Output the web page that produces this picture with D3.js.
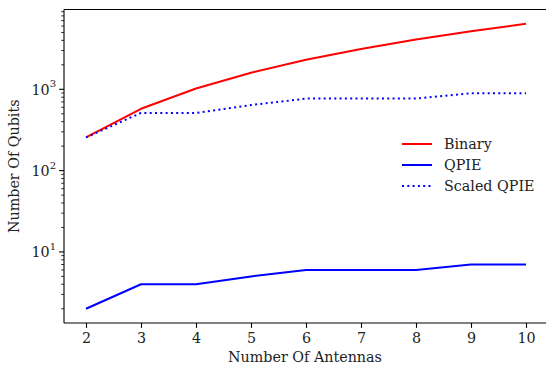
<!DOCTYPE html>
<html>
<head>
<meta charset="utf-8">
<script src="https://cdn.jsdelivr.net/npm/d3@7"></script>
<style>
  html, body { margin: 0; padding: 0; background: #fff; }
  svg { display: block; font-family: "DejaVu Serif", serif; }
</style>
</head>
<body>
<svg id="chart" width="546" height="367"></svg>
<script>
const antennas = [2, 3, 4, 5, 6, 7, 8, 9, 10];
const binary = [256, 576, 1024, 1600, 2304, 3136, 4096, 5184, 6400];
const qpie = [2, 4, 4, 5, 6, 6, 6, 7, 7];
const scaledQpie = [256, 512, 512, 640, 768, 768, 768, 896, 896];
const seriesNames = ['Binary', 'QPIE', 'Scaled QPIE'];
const yMajorTicks = [10, 100, 1000];

const svg = d3.select('#chart');
const margin = { left: 64, top: 9.5, right: 548, bottom: 323 };
const fs = 14.3;

// matplotlib-style 5% margins
const xPad = (d3.max(antennas) - d3.min(antennas)) * 0.05;
const x = d3.scaleLinear()
  .domain([d3.min(antennas) - xPad, d3.max(antennas) + xPad])
  .range([margin.left, margin.right]);

const all = binary.concat(qpie, scaledQpie);
const lmin = Math.log10(d3.min(all)), lmax = Math.log10(d3.max(all));
const lpad = (lmax - lmin) * 0.05;
const y = d3.scaleLog()
  .domain([Math.pow(10, lmin - lpad), Math.pow(10, lmax + lpad)])
  .range([margin.bottom, margin.top]);

// lines
const line = d3.line().x((d, i) => x(antennas[i])).y(d => y(d));
const series = [
  { name: seriesNames[0], values: binary, color: '#ff0000', dash: null },
  { name: seriesNames[1], values: qpie, color: '#0000ff', dash: null },
  { name: seriesNames[2], values: scaledQpie, color: '#0000ff', dash: '2,3.3' }
];
const plot = svg.append('g');
plot.selectAll('path').data(series).join('path')
  .attr('d', d => line(d.values))
  .attr('fill', 'none')
  .attr('stroke', d => d.color)
  .attr('stroke-width', 2)
  .attr('stroke-dasharray', d => d.dash)
  .attr('stroke-linejoin', 'round');

// spines
const spine = (x1, y1, x2, y2) => svg.append('line')
  .attr('x1', x1).attr('y1', y1).attr('x2', x2).attr('y2', y2)
  .attr('stroke', '#000').attr('stroke-width', 1.1);
spine(margin.left, margin.top, margin.left, margin.bottom);
spine(margin.left, margin.top, margin.right, margin.top);
spine(margin.left, margin.bottom, margin.right, margin.bottom);
spine(margin.right, margin.top, margin.right, margin.bottom);

// x axis
const xAxis = svg.append('g').attr('transform', `translate(0,${margin.bottom})`)
  .call(d3.axisBottom(x).tickValues(antennas).tickSize(4.9).tickPadding(4.5).tickFormat(d3.format('d')));
xAxis.select('.domain').remove();
xAxis.selectAll('text').attr('font-size', fs).attr('font-family', '"DejaVu Serif", serif').attr('fill', '#222');
xAxis.selectAll('line').attr('stroke', '#000').attr('stroke-width', 1.1);

// y axis: minor ticks
const [y0, y1] = y.domain();
const minor = [];
for (let e = Math.floor(Math.log10(y0)); e <= Math.ceil(Math.log10(y1)); e++) {
  for (let m = 2; m <= 9; m++) {
    const v = m * Math.pow(10, e);
    if (v >= y0 && v <= y1) minor.push(v);
  }
}
svg.append('g').selectAll('line').data(minor).join('line')
  .attr('x1', margin.left - 2.8).attr('x2', margin.left)
  .attr('y1', d => y(d)).attr('y2', d => y(d))
  .attr('stroke', '#000').attr('stroke-width', 0.8);

const yMaj = svg.append('g').selectAll('g').data(yMajorTicks).join('g')
  .attr('transform', d => `translate(0,${y(d)})`);
yMaj.append('line').attr('x1', margin.left - 4.9).attr('x2', margin.left)
  .attr('stroke', '#000').attr('stroke-width', 1.1);
const yt = yMaj.append('text').attr('x', margin.left - 8).attr('dy', '0.38em')
  .attr('text-anchor', 'end').attr('font-size', fs).attr('fill', '#222');
yt.append('tspan').text('10');
yt.append('tspan').attr('font-size', 10).attr('dy', '-0.75em').text(d => Math.round(Math.log10(d)));

// axis labels
svg.append('text').attr('x', (margin.left + margin.right) / 2 - 1).attr('y', 362)
  .attr('text-anchor', 'middle').attr('font-size', fs).attr('fill', '#222').text('Number Of Antennas');
svg.append('text').attr('transform', `translate(19,${(margin.top + margin.bottom) / 2}) rotate(-90)`)
  .attr('text-anchor', 'middle').attr('font-size', fs).attr('fill', '#222').text('Number Of Qubits');

// legend
const legend = svg.append('g').attr('transform', 'translate(402,144)');
const item = legend.selectAll('g').data(series).join('g')
  .attr('transform', (d, i) => `translate(0,${i * 21})`);
item.append('line').attr('x1', 0).attr('x2', 30)
  .attr('stroke', d => d.color).attr('stroke-width', 2)
  .attr('stroke-dasharray', d => d.dash);
item.append('text').attr('x', 42).attr('dy', '0.35em')
  .attr('font-size', fs).attr('fill', '#222').text(d => d.name);
</script>
</body>
</html>
